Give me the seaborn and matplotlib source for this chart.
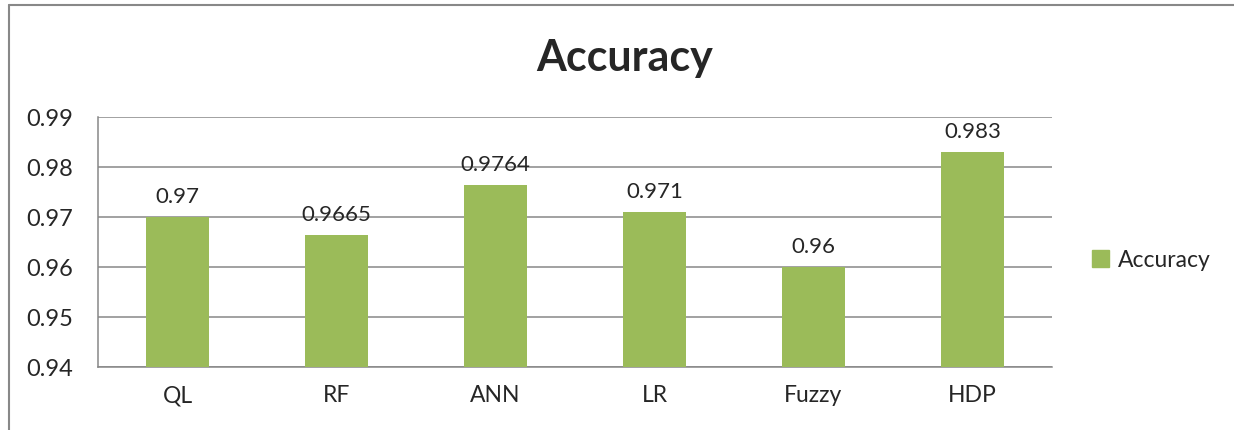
import matplotlib.pyplot as plt
import seaborn as sns
import pandas as pd
import numpy as np
from matplotlib.patches import Patch
from matplotlib.lines import Line2D

models = ['QL', 'RF', 'ANN', 'LR', 'Fuzzy', 'HDP']
accuracy = [0.97, 0.9665, 0.9764, 0.971, 0.96, 0.983]
labels = ['0.97', '0.9665', '0.9764', '0.971', '0.96', '0.983']
yticks = [0.94, 0.95, 0.96, 0.97, 0.98, 0.99]

df = pd.DataFrame({'Model': models, 'Accuracy': accuracy})

sns.set_style('white')
plt.rcParams['font.family'] = ['Lato', 'DejaVu Sans']

green = '#9BBB59'
grid = '#878787'

fig = plt.figure(figsize=(12.34, 4.30), dpi=100)
ax = fig.add_axes([0.0794, 0.1465, 0.7731, 0.5814])

sns.barplot(data=df, x='Model', y='Accuracy', color=green, width=0.4,
            saturation=1, linewidth=0, ax=ax, zorder=3)

ax.set_ylim(0.94, 0.99)
ax.set_xlim(-0.5, len(models) - 0.5)
ax.set_yticks(yticks)
ax.set_yticklabels([f'{t:.2f}' for t in yticks], fontsize=17)
ax.set_xticks(range(len(models)))
ax.set_xticklabels(models, fontsize=16.5)
ax.tick_params(axis='x', which='major', length=0, pad=13)
ax.set_xticks(np.arange(-0.5, len(models)), minor=True)
ax.tick_params(axis='x', which='minor', length=8, width=1, color=grid, direction='out')
ax.tick_params(axis='y', length=8, width=1, color=grid, direction='out', pad=10)
ax.yaxis.grid(True, color=grid, linewidth=1.1, zorder=0)
ax.set_axisbelow(True)
for s in ['top', 'right']:
    ax.spines[s].set_visible(False)
for s in ['left', 'bottom']:
    ax.spines[s].set_color(grid)
    ax.spines[s].set_linewidth(1.1)
ax.set_xlabel('')
ax.set_ylabel('')

for i, (v, lab) in enumerate(zip(accuracy, labels)):
    ax.annotate(lab, (i, v), xytext=(0, 7), textcoords='offset points',
                ha='center', va='bottom', fontsize=16)

fig.text(0.506, 0.865, 'Accuracy', ha='center', va='center',
         fontsize=31, fontweight='bold')

handles = [Patch(facecolor=green, edgecolor=green, label='Accuracy')]
fig.legend(handles=handles, loc='center left', bbox_to_anchor=(0.868, 0.395),
           frameon=False, fontsize=16.5, handlelength=0.75, handleheight=0.75,
           handletextpad=0.4)

# outer chart frame (only top and left edges visible)
fig.add_artist(Line2D([0.0073, 1.0], [0.988, 0.988], color='#888888', lw=1.5))
fig.add_artist(Line2D([0.0073, 0.0073], [0.0, 0.988], color='#888888', lw=1.5))

fig.savefig('out.png', dpi=100)
